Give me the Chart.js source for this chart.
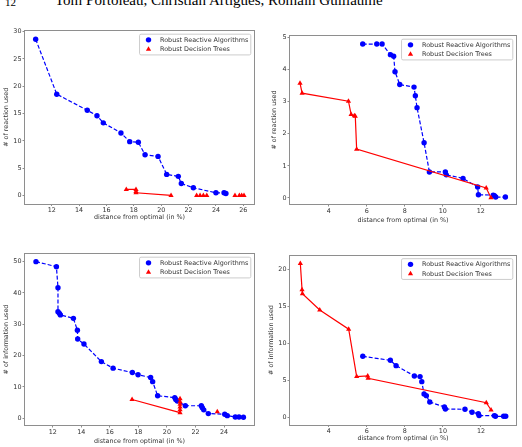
<!DOCTYPE html>
<html><head><meta charset="utf-8">
<script src="https://cdn.jsdelivr.net/npm/chart.js"></script>
<style>
html,body{margin:0;padding:0;background:#fff;}
body{width:522px;height:447px;position:relative;overflow:hidden;}
.hdr{position:absolute;font-family:"Liberation Serif",serif;color:#000;white-space:pre;}
#pg{font-size:11px;line-height:11px;top:-3.5px;left:5px;}
#au{font-size:15px;line-height:15px;top:-6.9px;left:55px;}
canvas{position:absolute;}
</style></head><body>
<span class="hdr" id="pg">12</span>
<span class="hdr" id="au">Tom Portoleau, Christian Artigues, Romain Guillaume</span>
<canvas id="c1" width="261" height="205" style="left:0;top:20px"></canvas>
<canvas id="c2" width="261" height="205" style="left:261px;top:20px"></canvas>
<canvas id="c3" width="261" height="207" style="left:0;top:240px"></canvas>
<canvas id="c4" width="261" height="207" style="left:261px;top:240px"></canvas>
<script>
// ---- data ----
const labelRRA = 'Robust Reactive Algorithms';
const labelRDT = 'Robust Decision Trees';
const xTitle = 'distance from optimal (in %)';
const yTitleReaction = '# of reaction used';
const yTitleInfo = '# of information used';

// top-left: reactions
const rA_rra_x = [10.83, 12.37, 14.60, 15.31, 15.77, 17.06, 17.70, 18.33, 18.82, 19.77, 20.40, 21.25, 21.47, 22.35, 24.00, 24.59, 24.73];
const rA_rra_y = [28.6, 18.55, 15.6, 14.6, 13.3, 11.45, 9.86, 9.74, 7.47, 7.16, 3.86, 3.50, 2.20, 1.41, 0.49, 0.49, 0.37];
const rA_rdt_x = [17.45, 18.16, 18.16, 18.16, 20.72];
const rA_rdt_y = [1.10, 1.10, 0.73, 0.49, 0.00];
const rA_rdt2_x = [22.59, 22.84, 23.08, 23.33, 25.39, 25.71, 25.88, 26.05];
const rA_rdt2_y = [0, 0, 0, 0, 0, 0, 0, 0];
const rA_xticks = [12, 14, 16, 18, 20, 22, 24, 26];
const rA_yticks = [0, 5, 10, 15, 20, 25, 30];

// top-right: reactions
const rB_rra_x = [5.79, 6.53, 6.81, 7.25, 7.42, 7.49, 7.74, 8.49, 8.56, 8.65, 9.02, 9.30, 10.14, 10.19, 11.07, 11.84, 11.88, 12.66, 12.72, 12.79, 13.30];
const rB_rra_y = [4.79, 4.79, 4.79, 4.46, 4.41, 3.93, 3.53, 3.45, 3.18, 2.81, 1.72, 0.81, 0.81, 0.72, 0.61, 0.34, 0.10, 0.09, 0.07, 0.03, 0.03];
const rB_rdt_x = [2.49, 2.60, 5.04, 5.18, 5.35, 5.40, 5.47, 12.29, 12.54];
const rB_rdt_y = [3.57, 3.26, 3.01, 2.60, 2.56, 2.54, 1.52, 0.31, 0.01];
const rB_xticks = [4, 6, 8, 10, 12];
const rB_yticks = [0, 1, 2, 3, 4, 5];

// bottom-left: information
const iA_rra_x = [10.83, 12.26, 12.37, 12.37, 12.47, 12.54, 13.45, 13.73, 13.75, 14.19, 15.41, 16.23, 17.58, 17.98, 18.86, 19.00, 19.35, 20.55, 20.62, 20.73, 21.29, 22.41, 22.48, 22.58, 22.90, 24.05, 24.23, 24.79, 25.05, 25.36];
const iA_rra_y = [50.0, 48.4, 41.7, 34.0, 33.5, 33.0, 31.9, 28.1, 25.3, 23.7, 18.1, 16.0, 14.6, 13.9, 13.0, 11.7, 7.2, 6.6, 6.0, 5.5, 4.0, 4.0, 3.4, 2.7, 1.5, 1.3, 0.85, 0.43, 0.43, 0.32];
const iA_rdt_x = [17.56, 20.92, 20.92, 20.92, 20.92, 20.92, 20.92];
const iA_rdt_y = [6.0, 1.8, 2.7, 3.6, 4.5, 5.3, 6.2];
const iA_rdt2_x = [23.53];
const iA_rdt2_y = [2.1];
const iA_xticks = [12, 14, 16, 18, 20, 22, 24];
const iA_yticks = [0, 10, 20, 30, 40, 50];

// bottom-right: information
const iB_rra_x = [5.79, 7.24, 7.54, 8.50, 8.80, 8.89, 9.01, 9.13, 9.31, 10.08, 10.13, 11.16, 11.53, 11.86, 11.90, 12.70, 12.76, 13.19, 13.30];
const iB_rra_y = [8.24, 7.70, 6.98, 5.59, 5.50, 4.82, 3.15, 2.93, 2.07, 1.40, 1.13, 1.08, 0.68, 0.50, 0.23, 0.23, 0.14, 0.14, 0.14];
const iB_rdt_x = [2.51, 2.60, 2.62, 3.53, 5.05, 5.47, 6.05, 6.07, 12.28, 12.53];
const iB_rdt_y = [20.77, 17.25, 16.70, 14.50, 11.90, 5.50, 5.59, 5.27, 1.98, 0.99];
const iB_xticks = [4, 6, 8, 10, 12];
const iB_yticks = [0, 5, 10, 15, 20];

// ---- styling ----
const BLUE = '#0000ff', RED = '#ff0000';
const FRAME = '#8e8e8e', TXT = '#333333';
const FS = 6.4, FONT = 'DejaVu Sans';
const pts = (xs, ys) => xs.map((x, i) => ({x: x, y: ys[i]}));

const framePlugin = {
  id: 'mplFrame',
  afterDatasetsDraw(chart) {
    const {ctx, chartArea: a} = chart;
    ctx.save();
    ctx.strokeStyle = FRAME; ctx.lineWidth = 1;
    ctx.strokeRect(Math.round(a.left) - 0.5, Math.round(a.top) - 0.5, Math.round(a.right) - Math.round(a.left) + 1, Math.round(a.bottom) - Math.round(a.top) + 1);
    ctx.restore();
  },
  afterDraw(chart) {
    const {ctx, chartArea: a} = chart;
    const items = chart.data.datasets.filter(d => d.inLegend);
    ctx.save();
    ctx.font = FS + 'px "' + FONT + '"';
    const tw = Math.max(...items.map(d => ctx.measureText(d.label).width));
    const bp = 0.4 * FS, hl = 2 * FS, htp = 0.8 * FS, ls = 0.5 * FS, bap = 0.5 * FS, rh = 6.2;
    const w = bp + hl + htp + tw + bp;
    const h = 2 * bp + items.length * rh + (items.length - 1) * ls;
    const x0 = a.right - bap - w, y0 = a.top + bap;
    ctx.fillStyle = 'rgba(255,255,255,0.8)';
    ctx.strokeStyle = '#cccccc'; ctx.lineWidth = 1;
    ctx.beginPath();
    if (ctx.roundRect) ctx.roundRect(x0, y0, w, h, 1.5); else ctx.rect(x0, y0, w, h);
    ctx.fill(); ctx.stroke();
    items.forEach((d, i) => {
      const cy = y0 + bp + rh / 2 + i * (rh + ls);
      const mx = x0 + bp + hl / 2;
      ctx.fillStyle = d.pointBackgroundColor;
      ctx.beginPath();
      if (d.pointStyle === 'triangle') {
        const r = d.pointRadius;
        ctx.moveTo(mx, cy - r);
        ctx.lineTo(mx + r * 0.866, cy + r * 0.5);
        ctx.lineTo(mx - r * 0.866, cy + r * 0.5);
        ctx.closePath();
      } else {
        ctx.arc(mx, cy, d.pointRadius, 0, Math.PI * 2);
      }
      ctx.fill();
      ctx.fillStyle = TXT; ctx.textAlign = 'left'; ctx.textBaseline = 'middle';
      ctx.fillText(d.label, x0 + bp + hl + htp, cy + 0.3);
    });
    ctx.restore();
  }
};

function rra(xs, ys) {
  return {label: labelRRA, inLegend: true, data: pts(xs, ys), showLine: true,
    borderColor: BLUE, borderWidth: 1.2, borderDash: [4, 2],
    pointStyle: 'circle', pointRadius: 2.7, pointBackgroundColor: BLUE, pointBorderWidth: 0,
    order: 2};
}
function rdt(xs, ys) {
  return {label: labelRDT, inLegend: true, data: pts(xs, ys), showLine: true,
    borderColor: RED, borderWidth: 1.2,
    pointStyle: 'triangle', pointRadius: 3, pointBackgroundColor: RED, pointBorderWidth: 0,
    order: 1};
}
function rdtPts(xs, ys) {
  return {label: labelRDT, inLegend: false, data: pts(xs, ys), showLine: false,
    borderColor: RED, borderWidth: 0,
    pointStyle: 'triangle', pointRadius: 3, pointBackgroundColor: RED, pointBorderWidth: 0,
    order: 1};
}

function makeChart(id, o) {
  const tickFont = {family: FONT, size: FS};
  new Chart(document.getElementById(id), {
    type: 'scatter',
    data: {datasets: o.datasets},
    options: {
      responsive: false, animation: false, devicePixelRatio: 1,
      layout: {padding: {left: 0, top: o.T, right: o.R, bottom: 0}},
      plugins: {legend: {display: false}, tooltip: {enabled: false}},
      elements: {line: {tension: 0}},
      scales: {
        x: {
          type: 'linear', min: o.xmin, max: o.xmax,
          afterBuildTicks: s => { s.ticks = o.xticks.map(v => ({value: v})); },
          afterFit: s => { s.height = o.XH; s.paddingLeft = 0; s.paddingRight = 0; },
          grid: {display: true, drawOnChartArea: false, drawTicks: true, tickLength: 2.5, tickColor: FRAME, lineWidth: 1},
          border: {display: false},
          ticks: {font: tickFont, color: TXT, padding: 1, maxRotation: 0, autoSkip: false},
          title: {display: true, text: xTitle, font: tickFont, color: TXT, padding: {top: 0, bottom: o.xtp}}
        },
        y: {
          type: 'linear', min: o.ymin, max: o.ymax,
          afterBuildTicks: s => { s.ticks = o.yticks.map(v => ({value: v})); },
          afterFit: s => { s.width = o.YW; s.paddingTop = 0; s.paddingBottom = 0; },
          grid: {display: true, drawOnChartArea: false, drawTicks: true, tickLength: 2.5, tickColor: FRAME, lineWidth: 1},
          border: {display: false},
          ticks: {font: tickFont, color: TXT, padding: 1, autoSkip: false},
          title: {display: true, text: o.ytitle, font: tickFont, color: TXT, padding: {top: o.ytp, bottom: 0}}
        }
      }
    },
    plugins: [framePlugin]
  });
}

makeChart('c1', {
  datasets: [rra(rA_rra_x, rA_rra_y), rdt(rA_rdt_x, rA_rdt_y), rdtPts(rA_rdt2_x, rA_rdt2_y)],
  xmin: 10.05, xmax: 26.78, ymin: -1.47, ymax: 30.12, xticks: rA_xticks, yticks: rA_yticks,
  T: 11, R: 7, YW: 25, XH: 21.5, xtp: 3.9, ytp: 2.2, ytitle: yTitleReaction
});
makeChart('c2', {
  datasets: [rra(rB_rra_x, rB_rra_y), rdt(rB_rdt_x, rB_rdt_y)],
  xmin: 1.963, xmax: 13.858, ymin: -0.187, ymax: 5.04, xticks: rB_xticks, yticks: rB_yticks,
  T: 16, R: 6, YW: 29, XH: 21, xtp: 1.2, ytp: 9.4, ytitle: yTitleReaction
});
makeChart('c3', {
  datasets: [rra(iA_rra_x, iA_rra_y), rdt(iA_rdt_x, iA_rdt_y), rdtPts(iA_rdt2_x, iA_rdt2_y)],
  xmin: 10.06, xmax: 26.1, ymin: -2.14, ymax: 52.44, xticks: iA_xticks, yticks: iA_yticks,
  T: 14, R: 7, YW: 25, XH: 22, xtp: 1.5, ytp: 2.2, ytitle: yTitleInfo
});
makeChart('c4', {
  datasets: [rra(iB_rra_x, iB_rra_y), rdt(iB_rdt_x, iB_rdt_y)],
  xmin: 1.967, xmax: 13.84, ymin: -0.97, ymax: 21.86, xticks: iB_xticks, yticks: iB_yticks,
  T: 15.5, R: 6, YW: 29, XH: 22.5, xtp: 4.9, ytp: 6.5, ytitle: yTitleInfo
});
</script>
</body></html>
